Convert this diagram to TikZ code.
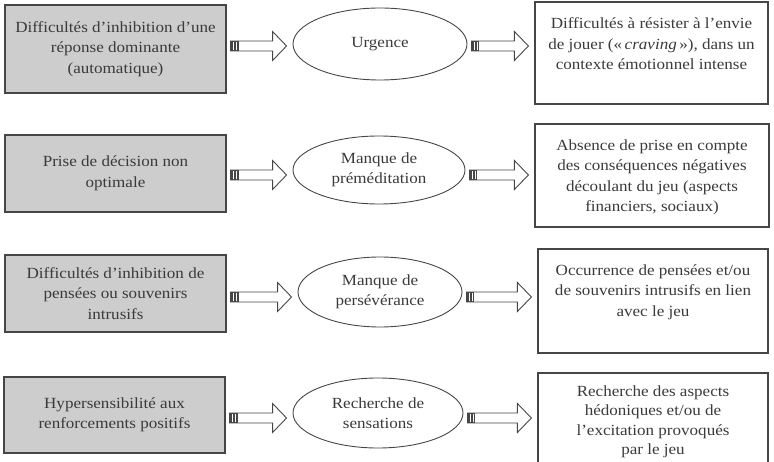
\documentclass[tikz,border=0pt]{standalone}
\usepackage{fontspec}
\setmainfont{Liberation Serif}[FakeStretch=1.1]
\usetikzlibrary{calc,shapes.geometric}
\definecolor{txt}{RGB}{58,58,58}
\definecolor{boxfill}{RGB}{205,205,205}
\definecolor{edge}{RGB}{70,70,70}
\newcommand\blockarrow[2]{%
  \draw[barrow] let \p1=(#1), \p2=(#2) in
    (\x1+4pt,\y1+5pt) -- (\x2-20pt,\y1+5pt) -- (\x2-20pt,\y1+14.5pt) -- (\x2-6pt,\y1)
    -- (\x2-20pt,\y1-14.5pt) -- (\x2-20pt,\y1-5pt) -- (\x1+4pt,\y1-5pt) -- cycle;
  \fill[edge] let \p1=(#1) in (\x1+4pt,\y1-5pt) rectangle (\x1+12pt,\y1+5pt);
  \draw[white, line width=0.7pt] let \p1=(#1) in
    (\x1+7pt,\y1-4.3pt) -- (\x1+7pt,\y1+4.3pt)
    (\x1+10pt,\y1-4.3pt) -- (\x1+10pt,\y1+4.3pt);
}
\begin{document}
\begin{tikzpicture}[x=1pt,y=-1pt,
  font=\fontsize{15.5}{20.5}\selectfont, text=txt,
  lbox/.style={draw=edge, line width=1.3pt, fill=boxfill, minimum width=221pt,
    align=center, inner sep=0pt},
  ell/.style={ellipse, draw=edge, line width=0.9pt, align=center, inner sep=0pt},
  rbox/.style={draw=edge, line width=1.2pt, inner sep=0pt},
  rtext/.style={anchor=north, align=center, inner sep=0pt, yshift=-16pt},
  barrow/.style={draw=edge, fill=white, line width=0.9pt, line join=miter}]
\useasboundingbox (0,0) rectangle (774,462);
\clip (0,0) rectangle (774,462);

% row coordinates for the arrows
\coordinate (c1) at (0,46);
\coordinate (c2) at (0,175);
\coordinate (c3) at (0,297);
\coordinate (c4) at (0,418);

% left boxes
\node[lbox, minimum height=88pt] (L1) at (115.5,49)
  {Difficultés d’inhibition d’une\\réponse dominante\\(automatique)};
\node[lbox, minimum height=77pt] (L2) at (115.5,173.5)
  {Prise de décision non\\optimale};
\node[lbox, minimum height=77pt] (L3) at (115.5,293.5)
  {Difficultés d’inhibition de\\pensées ou souvenirs\\intrusifs};
\node[lbox, minimum height=76pt] (L4) at (114.5,415)
  {Hypersensibilité aux\\renforcements positifs};

% ellipses
\node[ell, minimum width=174pt, minimum height=72pt] (E1) at (380,44) {Urgence};
\node[ell, minimum width=172pt, minimum height=68pt] (E2) at (379,170) {Manque de\\préméditation};
\node[ell, minimum width=164pt, minimum height=70pt] (E3) at (380,292) {Manque de\\persévérance};
\node[ell, minimum width=170pt, minimum height=70pt] (E4) at (378,413) {Recherche de\\sensations};

% right boxes
\node[rbox, minimum width=233pt, minimum height=102pt] (R1) at (651.5,53) {};
\node[rbox, minimum width=234pt, minimum height=103pt] (R2) at (652,175.5) {};
\node[rbox, minimum width=230pt, minimum height=104pt] (R3) at (653,301) {};
\node[rbox, minimum width=230pt, minimum height=104pt] (R4) at (653,425) {};

\node[rtext] (T1) at (R1.north)
  {Difficultés à résister à l’envie\\de jouer («\,\textit{craving}\,»), dans un\\contexte émotionnel intense};
\node[rtext] (T2) at (R2.north)
  {Absence de prise en compte\\des conséquences négatives\\découlant du jeu (aspects\\financiers, sociaux)};
\node[rtext] (T3) at (R3.north)
  {Occurrence de pensées et/ou\\de souvenirs intrusifs en lien\\avec le jeu};
\node[rtext, yshift=3pt, font=\fontsize{15.5}{19.5}\selectfont] (T4) at (R4.north)
  {Recherche des aspects\\hédoniques et/ou de\\l’excitation provoqués\\par le jeu};

% arrows
\blockarrow{L1.east |- c1}{E1.west |- c1}
\blockarrow{L2.east |- c2}{E2.west |- c2}
\blockarrow{L3.east |- c3}{E3.west |- c3}
\blockarrow{L4.east |- c4}{E4.west |- c4}
\blockarrow{E1.east |- c1}{R1.west |- c1}
\blockarrow{E2.east |- c2}{R2.west |- c2}
\blockarrow{E3.east |- c3}{R3.west |- c3}
\blockarrow{E4.east |- c4}{R4.west |- c4}
\end{tikzpicture}
\end{document}
